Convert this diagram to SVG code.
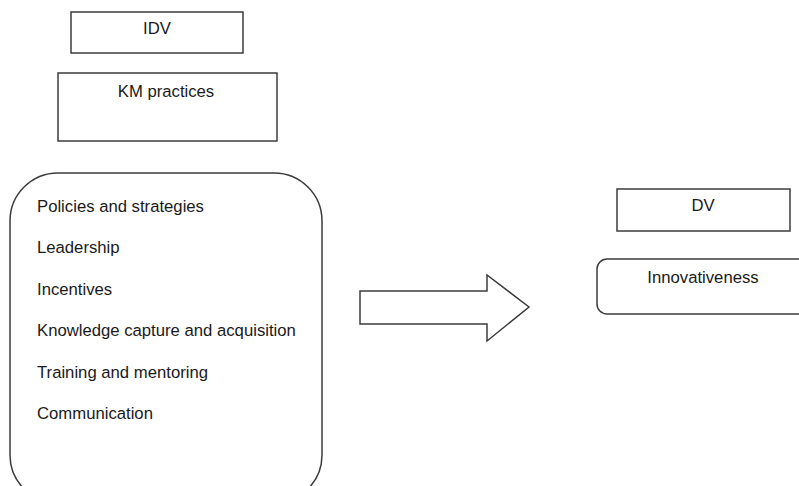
<svg xmlns="http://www.w3.org/2000/svg" width="799" height="486" viewBox="0 0 799 486">
<style>
.box{fill:#fff;stroke:#3c3c3c;stroke-width:1.5}
.t{font-family:"Liberation Sans",Arial,sans-serif;font-size:16.7px;fill:#1a1a1a}
.c{text-anchor:middle}
</style>
<rect width="799" height="486" fill="#fff"/>
<g id="idv">
<rect class="box" x="71" y="12" width="172" height="41"/>
<text class="t c" x="157" y="34">IDV</text>
</g>
<g id="km">
<rect class="box" x="58" y="73" width="219" height="68"/>
<text class="t c" x="166" y="97">KM practices</text>
</g>
<g id="practices">
<rect class="box" x="10" y="173" width="312" height="330" rx="48" ry="48"/>
<text class="t" x="37" y="212">Policies and strategies</text>
<text class="t" x="37" y="253">Leadership</text>
<text class="t" x="37" y="295">Incentives</text>
<text class="t" x="37" y="336">Knowledge capture and acquisition</text>
<text class="t" x="37" y="378">Training and mentoring</text>
<text class="t" x="37" y="419">Communication</text>
</g>
<g id="connectors">
<path class="box" d="M360 291 H487 V275 L529 307 L487 341 V324 H360 Z"/>
</g>
<g id="dv">
<rect class="box" x="617" y="189" width="173" height="42"/>
<text class="t c" x="703" y="211">DV</text>
</g>
<g id="innovativeness">
<rect class="box" x="597" y="259" width="230" height="55" rx="10" ry="10"/>
<text class="t c" x="703" y="283">Innovativeness</text>
</g>
</svg>
